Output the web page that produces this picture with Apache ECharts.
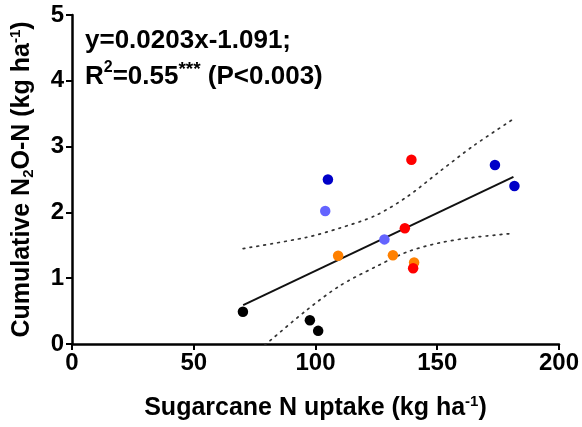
<!DOCTYPE html>
<html><head><meta charset="utf-8">
<script src="https://cdn.jsdelivr.net/npm/echarts@6/dist/echarts.min.js"></script>
<style>html,body{margin:0;padding:0;background:#fff}#c{width:582px;height:427px}</style>
</head><body><div id="c"></div>
<script>
// Data
var xTicks = [0, 50, 100, 150, 200];
var yTicks = [0, 1, 2, 3, 4, 5];
var blackPts = [[70.2, 0.49], [97.7, 0.36], [101.1, 0.20]];
var darkBluePts = [[105.1, 2.50], [173.7, 2.72], [181.7, 2.40]];
var lightBluePts = [[104.0, 2.02], [128.3, 1.59]];
var redPts = [[139.4, 2.80], [136.7, 1.76], [140.1, 1.15]];
var orangePts = [[109.3, 1.34], [131.8, 1.35], [140.5, 1.24]];
var fitLine = [[70.3, 0.59], [181.3, 2.54]];
var upperBand = [[70.3, 1.45], [96.2, 1.62], [109.8, 1.76], [124.5, 1.95], [137.7, 2.24], [151.3, 2.63], [164.8, 3.01], [180.5, 3.40]];
var lowerBand = [[70.3, -0.29], [81.3, 0.05], [96.2, 0.51], [109.8, 0.88], [124.5, 1.17], [137.7, 1.40], [151.3, 1.54], [164.8, 1.62], [181.0, 1.68]];
var eqLine1 = 'y=0.0203x-1.091;';
var eqLine2 = ['R', '2', '=0.55', '***', ' (P<0.003)'];

var FONT = '"Liberation Sans", Arial, sans-serif';
var chart = echarts.init(document.getElementById('c'), null, {renderer: 'canvas'});
function scatter(data, color) {
  return {type: 'scatter', data: data, symbol: 'circle', symbolSize: 10.5,
    itemStyle: {color: color, opacity: 1}, z: 5, silent: true};
}
function band(data) {
  return {type: 'line', data: data, smooth: 0.3, showSymbol: false, symbol: 'none',
    lineStyle: {color: '#333', width: 1.7, type: [1.7, 5.3], cap: 'round'}, z: 2, silent: true, clip: true};
}
chart.setOption({
  animation: false,
  backgroundColor: '#fff',
  grid: {left: 70, right: 19, top: 15, bottom: 82, containLabel: false},
  xAxis: {
    type: 'value', min: xTicks[0], max: xTicks[xTicks.length - 1], interval: 50,
    axisLine: {lineStyle: {color: '#000', width: 2.5}},
    axisTick: {length: 6, lineStyle: {color: '#000', width: 2}},
    axisLabel: {color: '#000', fontSize: 24, fontWeight: 'bold', fontFamily: FONT, margin: 7},
    splitLine: {show: false},
    name: 'Sugarcane N uptake (kg ha{sup|-1})', nameLocation: 'middle', nameGap: 50,
    nameTextStyle: {color: '#000', fontSize: 25, fontWeight: 'bold', fontFamily: FONT, lineHeight: 28,
      rich: {sup: {fontSize: 15, fontWeight: 'bold', fontFamily: FONT, color: '#000', verticalAlign: 'top', lineHeight: 28}}}
  },
  yAxis: {
    type: 'value', min: yTicks[0], max: yTicks[yTicks.length - 1], interval: 1,
    axisLine: {lineStyle: {color: '#000', width: 2.5}},
    axisTick: {length: 6, lineStyle: {color: '#000', width: 2}},
    axisLabel: {color: '#000', fontSize: 24, fontWeight: 'bold', fontFamily: FONT, margin: 8},
    splitLine: {show: false},
    name: 'Cumulative N{sub|2}O-N (kg ha{sup|-1})', nameLocation: 'middle', nameGap: 36, nameRotate: 90,
    nameTextStyle: {color: '#000', fontSize: 25, fontWeight: 'bold', fontFamily: FONT, lineHeight: 28,
      rich: {sub: {fontSize: 15, fontWeight: 'bold', fontFamily: FONT, color: '#000', verticalAlign: 'bottom', lineHeight: 28},
             sup: {fontSize: 15, fontWeight: 'bold', fontFamily: FONT, color: '#000', verticalAlign: 'top', lineHeight: 28}}}
  },
  graphic: [
    {type: 'text', left: 85, top: 28, style: {text: eqLine1, fill: '#000', font: 'bold 26px ' + FONT}},
    {type: 'text', left: 85, top: 60, style: {
      text: '{a|' + eqLine2[0] + '}{s|' + eqLine2[1] + '}{a|' + eqLine2[2] + '}{st|' + eqLine2[3] + '}{a|' + eqLine2[4] + '}',
      rich: {a: {fill: '#000', font: 'bold 26px ' + FONT, lineHeight: 30, verticalAlign: 'bottom'},
             s: {fill: '#000', font: 'bold 16px ' + FONT, lineHeight: 30, verticalAlign: 'top'},
             st: {fill: '#000', font: 'bold 19px ' + FONT, lineHeight: 30, verticalAlign: 'top'}}}}
  ],
  series: [
    band(upperBand), band(lowerBand),
    {type: 'line', data: fitLine, showSymbol: false, symbol: 'none', lineStyle: {color: '#111', width: 2}, z: 3, silent: true},
    scatter(blackPts, '#000000'),
    scatter(darkBluePts, '#0000c8'),
    scatter(lightBluePts, '#6464ff'),
    scatter(orangePts, '#ff8000'),
    scatter(redPts, '#ff0000')
  ]
});
</script></body></html>
